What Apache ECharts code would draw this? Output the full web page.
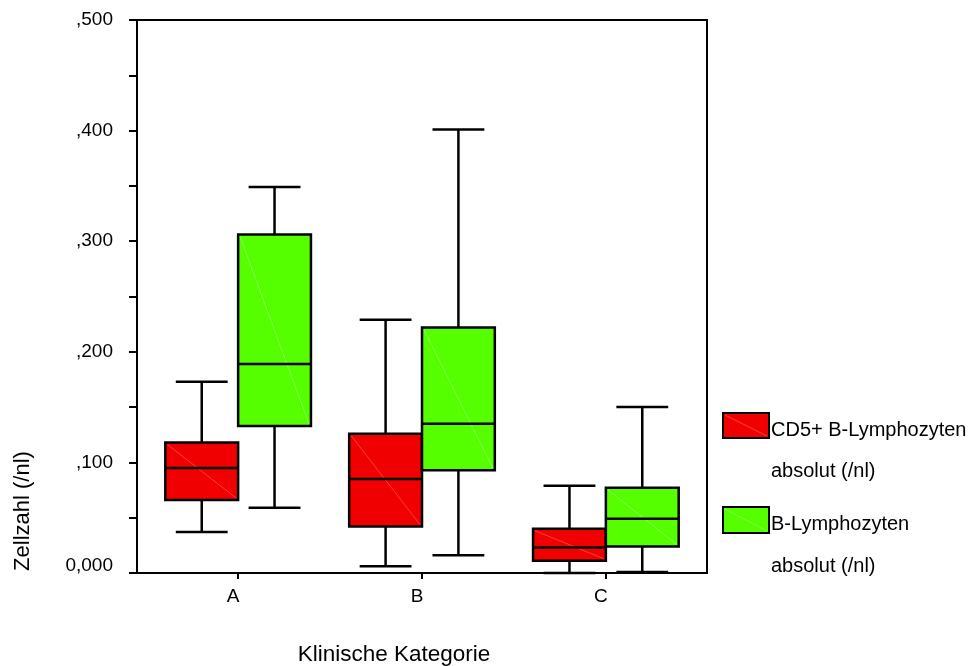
<!DOCTYPE html>
<html>
<head>
<meta charset="utf-8">
<script src="https://cdn.jsdelivr.net/npm/echarts@6/dist/echarts.min.js"></script>
<style>html,body{margin:0;padding:0;background:#fff;}#c{width:970px;height:666px;}</style>
</head>
<body>
<div id="c"></div>
<script>
// ---- data ----
var categories = ['A', 'B', 'C'];
var categoryPos = [1, 2, 3];
// [lower whisker, Q1, median, Q3, upper whisker]
var cd5Values = [
  [0.037, 0.066, 0.095, 0.118, 0.173],
  [0.006, 0.042, 0.085, 0.126, 0.229],
  [0.000, 0.011, 0.023, 0.040, 0.079]
];
var bLymValues = [
  [0.059, 0.133, 0.189, 0.306, 0.349],
  [0.016, 0.093, 0.135, 0.222, 0.401],
  [0.001, 0.024, 0.049, 0.077, 0.150]
];
var seriesNames = ['CD5+ B-Lymphozyten absolut (/nl)', 'B-Lymphozyten absolut (/nl)'];
var yTickValues = [0, 0.1, 0.2, 0.3, 0.4, 0.5];
var yTickLabels = ['0,000', ',100', ',200', ',300', ',400', ',500'];

var FONT = "'Liberation Sans', Arial, sans-serif";
var chart = echarts.init(document.getElementById('c'), null, {renderer: 'canvas'});
var LW = 2.5;

function makeRender(offset, fill, diag) {
  var half = 0.198, cap = 0.141;
  return function (params, api) {
    var x = api.value(0);
    var lo = api.value(1), q1 = api.value(2), med = api.value(3), q3 = api.value(4), hi = api.value(5);
    var c = x + offset;
    var pL = api.coord([c - half, q3]), pR = api.coord([c + half, q1]);
    var pC = api.coord([c, 0])[0];
    var capL = api.coord([c - cap, 0])[0], capR = api.coord([c + cap, 0])[0];
    var yLo = api.coord([c, lo])[1], yQ1 = api.coord([c, q1])[1], yMed = api.coord([c, med])[1];
    var yQ3 = api.coord([c, q3])[1], yHi = api.coord([c, hi])[1];
    var ls = {stroke: '#000', lineWidth: LW};
    return {
      type: 'group',
      children: [
        {type: 'line', shape: {x1: pC, y1: yHi, x2: pC, y2: yQ3}, style: ls},
        {type: 'line', shape: {x1: pC, y1: yQ1, x2: pC, y2: yLo}, style: ls},
        {type: 'line', shape: {x1: capL, y1: yHi, x2: capR, y2: yHi}, style: ls},
        {type: 'line', shape: {x1: capL, y1: yLo, x2: capR, y2: yLo}, style: ls},
        {type: 'rect', shape: {x: pL[0], y: yQ3, width: pR[0] - pL[0], height: yQ1 - yQ3},
          style: {fill: fill, stroke: '#000', lineWidth: LW}},
        {type: 'line', shape: {x1: pL[0] + 2, y1: yQ3 + 2, x2: pR[0] - 2, y2: yQ1 - 2},
          style: {stroke: diag, lineWidth: 0.6}},
        {type: 'line', shape: {x1: pL[0], y1: yMed, x2: pR[0], y2: yMed}, style: ls}
      ]
    };
  };
}

function toData(vals) {
  return vals.map(function (v, i) { return [categoryPos[i]].concat(v); });
}

function txt(t, x, y, size, align) {
  return {type: 'text', x: x, y: y, style: {text: t, font: size + 'px ' + FONT, fill: '#000',
    textAlign: align || 'left', textVerticalAlign: 'middle'}};
}

chart.setOption({
  animation: false,
  backgroundColor: '#fff',
  grid: {left: 137, top: 20, right: 263, bottom: 93, show: true, borderColor: '#000', borderWidth: 2, backgroundColor: 'transparent'},
  xAxis: {
    type: 'value', min: 0.45, max: 3.55,
    splitLine: {show: false},
    axisLine: {show: true, lineStyle: {color: '#000', width: 2}},
    axisTick: {show: true, customValues: categoryPos, length: 6, lineStyle: {color: '#000', width: 2}},
    axisLabel: {customValues: categoryPos, margin: 14, color: '#000', fontSize: 19, fontFamily: FONT,
      padding: [0, 10, 0, 0],
      formatter: function (v) { var i = categoryPos.indexOf(Math.round(v)); return i >= 0 ? categories[i] : ''; }}
  },
  yAxis: {
    type: 'value', min: 0, max: 0.5, interval: 0.05,
    splitLine: {show: false},
    axisLine: {show: true, lineStyle: {color: '#000', width: 2}},
    axisTick: {show: true, length: 8, lineStyle: {color: '#000', width: 2}},
    axisLabel: {customValues: yTickValues, margin: 24, color: '#000', fontSize: 19, fontFamily: FONT,
      rich: {z: {fontSize: 19, fontFamily: FONT, color: '#000', padding: [0, 0, 15, 0]}},
      formatter: function (v) {
        for (var i = 0; i < yTickValues.length; i++) {
          if (Math.abs(yTickValues[i] - v) < 1e-6) return i === 0 ? '{z|' + yTickLabels[i] + '}' : yTickLabels[i];
        }
        return '';
      }}
  },
  series: [
    {name: seriesNames[0], type: 'custom', renderItem: makeRender(-0.198, '#F00000', 'rgba(255,130,130,0.8)'),
      encode: {x: 0, y: [1, 2, 3, 4, 5]}, data: toData(cd5Values)},
    {name: seriesNames[1], type: 'custom', renderItem: makeRender(0.198, '#55FF00', 'rgba(190,255,160,0.8)'),
      encode: {x: 0, y: [1, 2, 3, 4, 5]}, data: toData(bLymValues)}
  ],
  graphic: [
    {type: 'rect', shape: {x: 723, y: 413, width: 46, height: 25}, style: {fill: '#F00000', stroke: '#000', lineWidth: 2}},
    {type: 'line', shape: {x1: 725, y1: 415, x2: 767, y2: 436}, style: {stroke: 'rgba(255,130,130,0.8)', lineWidth: 0.6}},
    txt('CD5+ B-Lymphozyten', 771, 430, 20),
    txt('absolut (/nl)', 771, 471, 20),
    {type: 'rect', shape: {x: 723, y: 507, width: 46, height: 26}, style: {fill: '#55FF00', stroke: '#000', lineWidth: 2}},
    {type: 'line', shape: {x1: 725, y1: 509, x2: 767, y2: 531}, style: {stroke: 'rgba(190,255,160,0.8)', lineWidth: 0.6}},
    txt('B-Lymphozyten', 771, 524, 20),
    txt('absolut (/nl)', 771, 566, 20),
    txt('Klinische Kategorie', 394, 655, 22.5, 'center'),
    {type: 'text', x: 23, y: 511, rotation: Math.PI / 2,
      style: {text: 'Zellzahl (/nl)', font: '22px ' + FONT, fill: '#000', textAlign: 'center', textVerticalAlign: 'middle'}}
  ]
});
</script>
</body>
</html>
